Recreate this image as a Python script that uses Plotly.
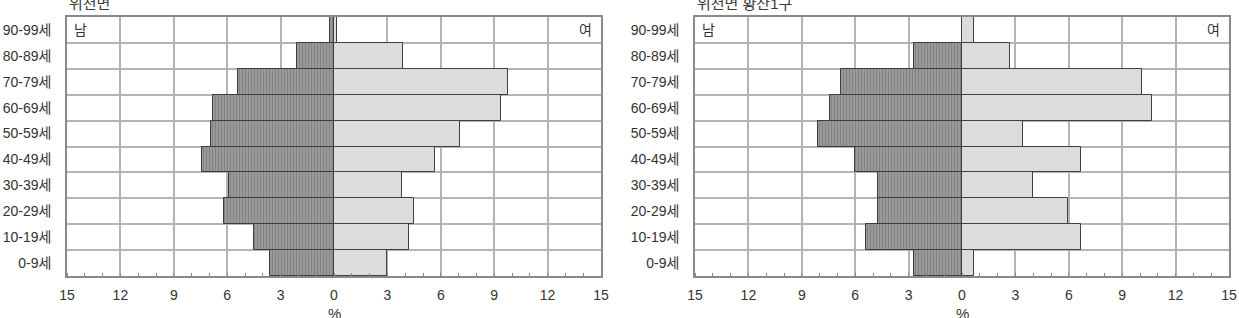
import plotly.graph_objects as go

ages = ["0-9세", "10-19세", "20-29세", "30-39세", "40-49세",
        "50-59세", "60-69세", "70-79세", "80-89세", "90-99세"]

titles = ["위천면", "위천면 황산1구"]

male_a = [3.6, 4.5, 6.2, 5.9, 7.4, 6.9, 6.8, 5.4, 2.1, 0.2]
female_a = [3.0, 4.2, 4.5, 3.8, 5.65, 7.1, 9.4, 9.8, 3.9, 0.15]

male_b = [2.7, 5.4, 4.7, 4.7, 6.0, 8.1, 7.4, 6.8, 2.7, 0.0]
female_b = [0.65, 6.7, 5.95, 4.0, 6.7, 3.4, 10.7, 10.1, 2.7, 0.65]

xticks = [-15, -12, -9, -6, -3, 0, 3, 6, 9, 12, 15]

W, H = 1239, 318
font = "Liberation Sans, Arial, Noto Sans CJK KR, sans-serif"
txt = "#333333"

fig = go.Figure()

panels = [
    (male_a, female_a, "x", "y", (67, 601)),
    (male_b, female_b, "x2", "y2", (695, 1229)),
]
ypos = list(range(len(ages)))

for i, (m, f, xa, ya, _) in enumerate(panels):
    fig.add_trace(go.Bar(
        y=ypos, x=[-v for v in m], orientation="h", width=1,
        xaxis=xa, yaxis=ya, showlegend=False,
        marker=dict(color="#8c8c8c",
                    line=dict(color="#3c3c3c", width=1),
                    pattern=dict(shape="|", fgcolor="#6c6c6c", bgcolor="#999999",
                                 size=3, solidity=0.35)),
    ))
    fig.add_trace(go.Bar(
        y=ypos, x=f, orientation="h", width=1,
        xaxis=xa, yaxis=ya, showlegend=False,
        marker=dict(color="#dcdcdc", line=dict(color="#404040", width=1)),
    ))

top, bottom = 17, 276
ydom = [1 - bottom / H, 1 - top / H]

layout = dict(
    width=W, height=H, margin=dict(l=0, r=0, t=0, b=0),
    paper_bgcolor="white", plot_bgcolor="white",
    barmode="overlay", bargap=0,
    font=dict(family=font, size=14, color=txt),
)

annotations = []
for i, (m, f, xa, ya, (x0, x1)) in enumerate(panels):
    sx = "" if i == 0 else "2"
    xaxis = dict(
        domain=[x0 / W, x1 / W], range=[-15, 15], anchor="y" + sx,
        automargin=False,
        tickvals=xticks, ticktext=[str(abs(v)) for v in xticks],
        showgrid=True, gridcolor="#b4b4b4", gridwidth=1.5,
        zeroline=False, showline=True, linecolor="#8a8a8a", linewidth=1.5,
        mirror=True, ticks="", ticklabelstandoff=5,
        tickfont=dict(size=14, color=txt),
        minor=dict(dtick=1, tick0=0, ticks="inside", ticklen=3,
                   tickcolor="#8a8a8a", showgrid=False),
    )
    yaxis = dict(
        domain=ydom, range=[-0.5, 9.5], anchor="x" + sx,
        automargin=False,
        tickvals=ypos, ticktext=ages, showgrid=False,
        zeroline=False, showline=True, linecolor="#8a8a8a", linewidth=1.5,
        mirror=True, ticks="", ticklabelstandoff=11,
        tickfont=dict(size=14, color=txt),
        minor=dict(tickvals=[k + 0.5 for k in range(9)], showgrid=True,
                   gridcolor="#b4b4b4", gridwidth=1.5, ticks=""),
    )
    layout["xaxis" + sx] = xaxis
    layout["yaxis" + sx] = yaxis
    annotations.append(dict(text=titles[i], xref="paper", yref="paper",
                            x=(x0) / W, y=1 - 14 / H, xanchor="left",
                            yanchor="bottom", showarrow=False,
                            font=dict(size=15, color="#3a3a3a")))
    annotations.append(dict(text="%", xref="x" + sx, yref="paper",
                            x=0, y=1 - 313 / H, xanchor="center",
                            yanchor="middle", showarrow=False,
                            font=dict(size=15, color=txt)))
    annotations.append(dict(text="남", xref="x" + sx, yref="y" + sx,
                            x=-14.7, y=9, xanchor="left", yanchor="middle",
                            showarrow=False, font=dict(size=14, color=txt)))
    annotations.append(dict(text="여", xref="x" + sx, yref="y" + sx,
                            x=14.6, y=9, xanchor="right", yanchor="middle",
                            showarrow=False, font=dict(size=14, color=txt)))

layout["annotations"] = annotations
fig.update_layout(**layout)
fig.write_html("out.html")
